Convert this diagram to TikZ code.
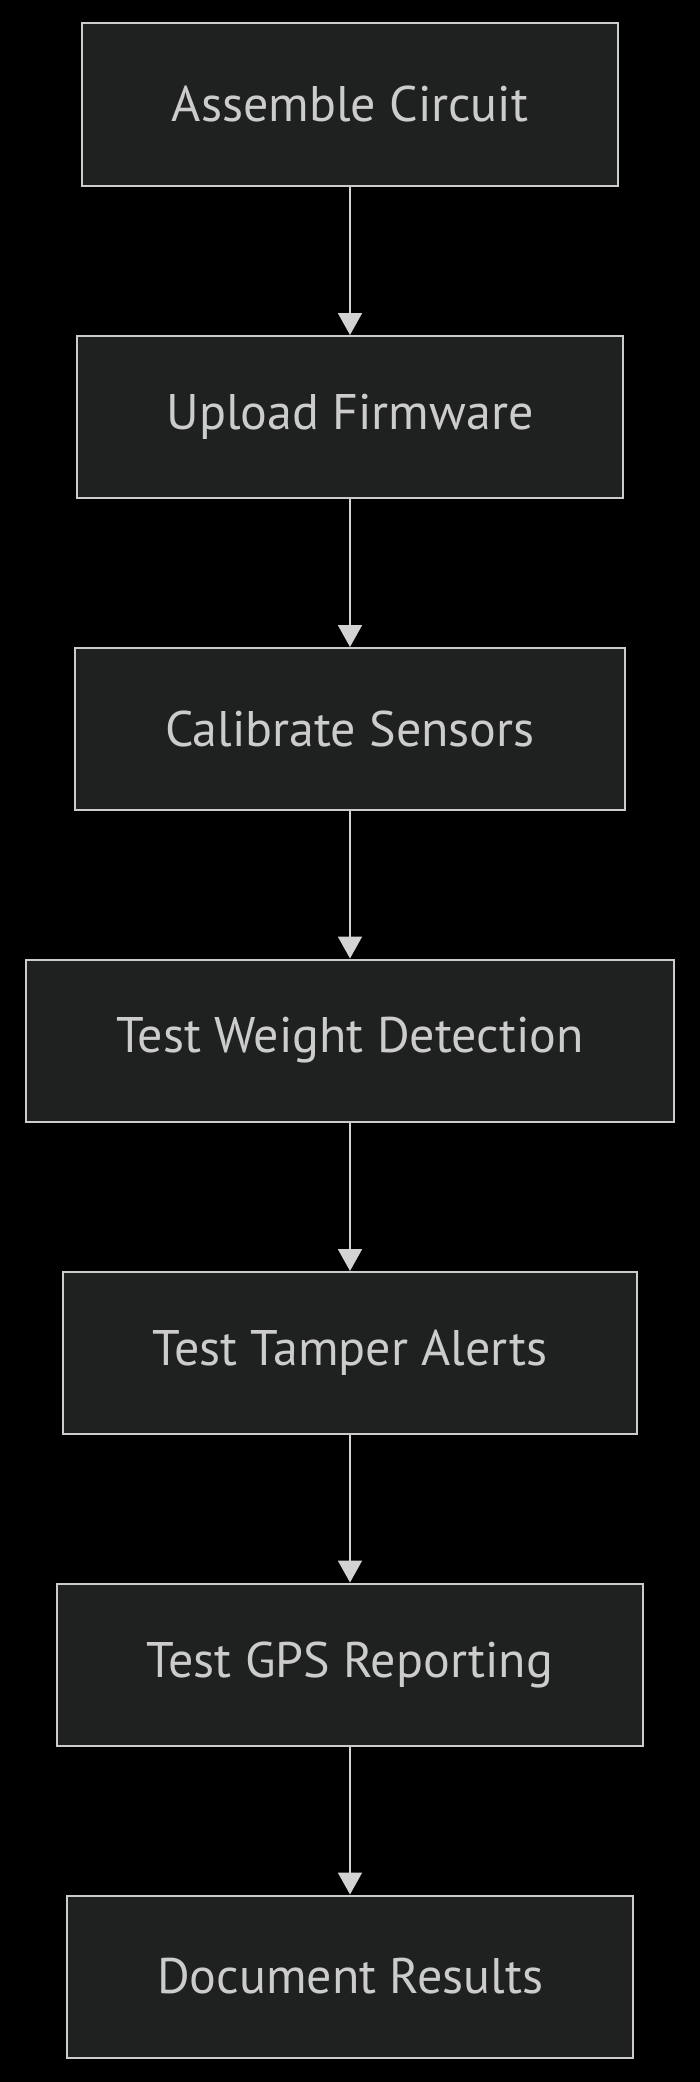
\documentclass[tikz,border=0pt]{standalone}
\usepackage{fontspec}
\setmainfont{PT Sans}
\usetikzlibrary{arrows.meta}

\definecolor{boxfill}{HTML}{1F2020}
\definecolor{boxline}{HTML}{CCCCCC}
\definecolor{labeltext}{HTML}{CCCCCC}
\definecolor{flowline}{HTML}{D3D3D3}

\tikzset{
  stepbox/.style={draw=boxline, fill=boxfill, line width=2pt, text=labeltext,
    font=\fontsize{50}{60}\selectfont, minimum height=162pt, inner xsep=90pt},
  flow/.style={draw=flowline, line width=2pt,
    -{Triangle[width=24pt,length=22pt]}}
}

\begin{document}
\begin{tikzpicture}[x=1pt, y=1pt]

  % Draw the background
  \fill[black] (0,0) rectangle (700,-2082);
  \useasboundingbox (0,0) rectangle (700,-2082);

  % Draw the steps
  \node[stepbox] (assemble) at (350,-104.5) {Assemble Circuit};
  \node[stepbox] (upload) at (350,-417) {Upload Firmware};
  \node[stepbox] (calibrate) at (350,-729) {Calibrate Sensors};
  \node[stepbox] (weight) at (350,-1040.5) {Test Weight Detection};
  \node[stepbox] (tamper) at (350,-1353) {Test Tamper Alerts};
  \node[stepbox] (gps) at (350,-1664.5) {Test GPS Reporting};
  \node[stepbox] (results) at (350,-1976.5) {Document Results};

  % Draw the arrows between the steps
  \draw[flow] (assemble) -- (upload);
  \draw[flow] (upload) -- (calibrate);
  \draw[flow] (calibrate) -- (weight);
  \draw[flow] (weight) -- (tamper);
  \draw[flow] (tamper) -- (gps);
  \draw[flow] (gps) -- (results);

\end{tikzpicture}
\end{document}
